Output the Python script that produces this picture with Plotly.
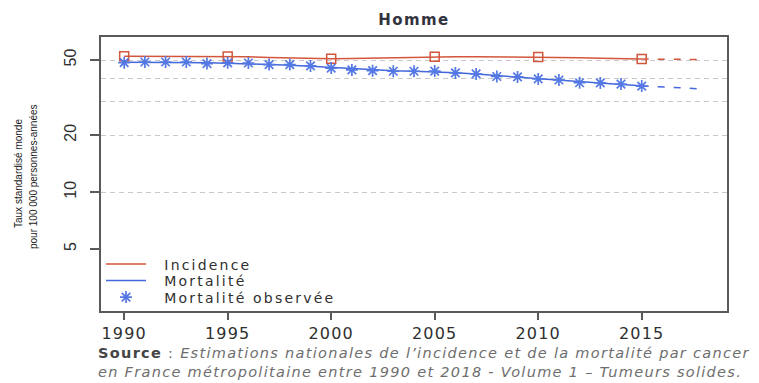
import plotly.graph_objects as go

# --- data -------------------------------------------------------------
years = list(range(1990, 2016))
proj_years = [2015, 2016, 2017, 2018]

# Incidence (modelled), yearly values
incidence = [52.3, 52.3, 52.2, 52.2, 52.2, 52.2, 52.0, 51.6, 51.2, 50.9,
             50.8, 50.9, 51.2, 51.5, 51.8, 52.0, 52.0, 52.0, 51.9, 51.9,
             51.9, 51.7, 51.4, 51.1, 50.8, 50.6]
incidence_proj = [50.6, 50.5, 50.4, 50.3]
marker_years = [1990, 1995, 2000, 2005, 2010, 2015]

# Mortality (modelled) and observed mortality
mortality = [48.6, 48.6, 48.6, 48.5, 48.3, 48.1, 47.8, 47.4, 46.9, 46.3,
             45.6, 44.9, 44.3, 43.9, 43.6, 43.3, 42.8, 42.1, 41.3, 40.6,
             39.8, 39.1, 38.4, 37.7, 37.1, 36.5]
mortality_proj = [36.5, 36.0, 35.5, 35.1]
mortality_obs = [48.4, 48.8, 48.8, 48.8, 47.9, 48.3, 48.2, 47.3, 47.3, 46.5,
                 45.3, 44.3, 43.9, 43.6, 43.6, 43.7, 42.7, 42.2, 40.9, 40.7,
                 39.7, 39.2, 37.9, 37.8, 37.3, 36.4]

x_ticks = [1990, 1995, 2000, 2005, 2010, 2015]
y_ticks = [5, 10, 20, 50]
y_grid = [10, 20, 30, 40, 50]

series_names = ["Incidence", "Mortalité", "Mortalité observée"]
title_text = "Homme"
y_title_1 = "Taux standardisé monde"
y_title_2 = "pour 100 000 personnes-années"
source_label = "Source"
source_line_1 = "Estimations nationales de l’incidence et de la mortalité par cancer"
source_line_2 = "en France métropolitaine entre 1990 et 2018 - Volume 1 – Tumeurs solides."

# --- styling ----------------------------------------------------------
W, H = 759, 383
L, R, T, B = 101, 727, 37, 311
RED = "#d2573d"
BLUE = "#4468dc"
STAR = "#5478e4"
AXIS = "#5a5a5a"
GRID = "#c9c9c9"
TXT = "#2f2f2f"


def px_x(p):
    return (p - L) / (R - L)


def px_y(p):
    return (B - p) / (B - T)


def spaced(text, px):
    """Wrap a label in a span with extra tracking."""
    return "<span style='letter-spacing:%.1fpx'>%s</span>" % (px, text)


NB = "\u00a0\u00a0"
inc_marks = [incidence[years.index(y)] for y in marker_years]

fig = go.Figure()

fig.add_trace(go.Scatter(x=years, y=incidence, mode="lines",
                         name=spaced(NB + series_names[0], 2.2),
                         line=dict(color=RED, width=1.5), legend="legend"))
fig.add_trace(go.Scatter(x=proj_years, y=incidence_proj, mode="lines", showlegend=False,
                         line=dict(color=RED, width=1.5, dash="7px,9px")))
fig.add_trace(go.Scatter(x=marker_years, y=inc_marks, mode="markers", showlegend=False,
                         marker=dict(symbol="square-open", size=9, color=RED,
                                     line=dict(width=1.5, color=RED))))

fig.add_trace(go.Scatter(x=years, y=mortality, mode="lines",
                         name=spaced(NB + series_names[1], 2.2),
                         line=dict(color=BLUE, width=1.5), legend="legend2"))
fig.add_trace(go.Scatter(x=proj_years, y=mortality_proj, mode="lines", showlegend=False,
                         line=dict(color=BLUE, width=1.5, dash="7px,9px")))
fig.add_trace(go.Scatter(x=years, y=mortality_obs, mode="markers",
                         name=spaced(NB + series_names[2], 2.2),
                         marker=dict(symbol="asterisk-open", size=10, color=STAR,
                                     line=dict(width=1.7, color=STAR)),
                         legend="legend3"))

# invisible trace on the overlay axis that carries the dashed grid
fig.add_trace(go.Scatter(x=[1990], y=[50], yaxis="y2", mode="markers", showlegend=False,
                         marker=dict(opacity=0), hoverinfo="skip"))

y_range = [0.371, 1.8207]
x_range = [1988.88, 2019.12]

legend_common = dict(x=px_x(101), xanchor="left", yanchor="middle",
                     bgcolor="rgba(0,0,0,0)", itemwidth=40,
                     font=dict(family="DejaVu Sans", size=14, color=TXT))

source_text = ("<span style='color:#454545'><b>" + source_label + "</b></span> : <i>"
               + source_line_1 + "</i><br><i>" + source_line_2 + "</i>")

fig.update_layout(
    width=W, height=H,
    margin=dict(l=L, r=W - R, t=T, b=H - B),
    paper_bgcolor="white", plot_bgcolor="white",
    title=dict(text="<b>" + spaced(title_text, 1.4) + "</b>", x=px_x(414), xref="paper",
               xanchor="center", y=1 - 20 / H, yref="container", yanchor="middle",
               font=dict(family="DejaVu Sans", size=15, color="#333340")),
    xaxis=dict(range=x_range, tickvals=x_ticks,
               ticktext=[spaced(str(v), 1.2) for v in x_ticks],
               ticks="outside", ticklen=7, tickwidth=1.5,
               tickcolor=AXIS, showgrid=False, zeroline=False,
               showline=True, linecolor=AXIS, linewidth=1.5, mirror=True,
               tickfont=dict(family="DejaVu Sans", size=16, color=TXT)),
    yaxis=dict(type="log", range=y_range, tickvals=y_ticks, ticktext=[str(v) for v in y_ticks],
               ticks="outside", ticklen=9, tickwidth=1.5, tickcolor=AXIS, tickangle=-90,
               showgrid=False, zeroline=False,
               showline=True, linecolor=AXIS, linewidth=1.5, mirror=True,
               ticklabelstandoff=8,
               tickfont=dict(family="Liberation Sans", size=16, color=TXT)),
    yaxis2=dict(type="log", range=y_range, overlaying="y", tickvals=y_grid,
                showticklabels=False, ticks="", showgrid=True, gridcolor=GRID, gridwidth=1,
                griddash="5px,4px", zeroline=False, showline=False),
    legend=dict(y=px_y(264.5), **legend_common),
    legend2=dict(y=px_y(281), **legend_common),
    legend3=dict(y=px_y(297.5), **legend_common),
    annotations=[
        dict(text=y_title_1, textangle=-90, xref="paper", yref="paper",
             x=px_x(18), y=px_y(174), xanchor="center", yanchor="middle", showarrow=False,
             font=dict(family="Liberation Sans", size=10, color="#1a1a1a")),
        dict(text=y_title_2, textangle=-90, xref="paper", yref="paper",
             x=px_x(33), y=px_y(177), xanchor="center", yanchor="middle", showarrow=False,
             font=dict(family="Liberation Sans", size=10, color="#1a1a1a")),
        dict(text=spaced(source_text, 1.3), xref="paper", yref="paper",
             x=px_x(96), y=px_y(362), xanchor="left", yanchor="middle",
             showarrow=False, align="left",
             font=dict(family="DejaVu Sans", size=14.5, color="#6e6e6e")),
    ],
)

fig.write_html("out.html")
